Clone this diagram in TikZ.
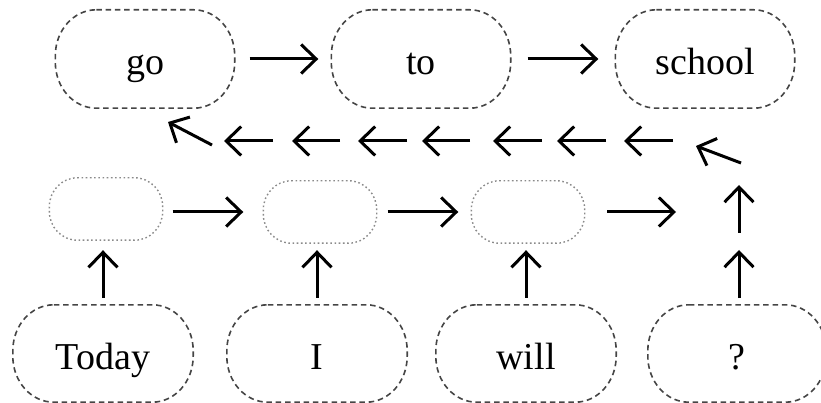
\documentclass[tikz,border=0pt]{standalone}
\usepackage{fontspec}
\setmainfont{Liberation Serif}
\usetikzlibrary{arrows.meta}
\definecolor{boxgray}{HTML}{454545}
\definecolor{dotgray}{HTML}{8A8A8A}
\newcommand\capsuleoutline[4]{% style, node, rx, ry
  \draw[#1] ([xshift=#3]#2.north west) -- ([xshift=-#3]#2.north east)
    arc[start angle=90,end angle=0,x radius=#3,y radius=#4]
    -- ([yshift=#4]#2.south east)
    arc[start angle=0,end angle=-90,x radius=#3,y radius=#4]
    -- ([xshift=#3]#2.south west)
    arc[start angle=270,end angle=180,x radius=#3,y radius=#4]
    -- ([yshift=-#4]#2.north west)
    arc[start angle=180,end angle=90,x radius=#3,y radius=#4] -- cycle;}
\begin{document}
\begin{tikzpicture}[x=1pt,y=-1pt,
  wordbox/.style={minimum width=179pt, minimum height=98pt, inner sep=0pt,
    text height=37pt, text depth=5pt, font=\fontsize{38}{40}\selectfont},
  hidbox/.style={minimum width=113pt, minimum height=62pt, inner sep=0pt},
  wordline/.style={draw=boxgray, line width=1.6pt, dash pattern=on 5.5pt off 3.8pt},
  hidline/.style={draw=dotgray, line width=1.4pt, dash pattern=on 1.6pt off 2.6pt},
  arr/.style={line width=3pt, -{Straight Barb[length=15pt,width=29pt,line width=3pt]}},
]
\useasboundingbox (0,0) rectangle (821,403);
% top row
\node[wordbox] (go) at (145,59) {go};
\node[wordbox] (to) at (421,59) {to};
\node[wordbox] (school) at (705,59) {school};
% hidden row
\node[hidbox] (h1) at (106,209) {};
\node[hidbox] (h2) at (320,212) {};
\node[hidbox] (h3) at (528,212) {};
% bottom row
\node[wordbox, minimum width=180pt, minimum height=97pt] (today) at (103,353.5) {Today};
\node[wordbox, minimum width=180pt, minimum height=97pt] (i) at (317,353.5) {I};
\node[wordbox, minimum width=180pt, minimum height=97pt] (will) at (526,353.5) {will};
\node[wordbox, minimum width=178pt, minimum height=97pt] (q) at (737,353.5) {?};
% outlines
\foreach \n in {go,to,school,today,i,will,q}{\capsuleoutline{wordline}{\n}{41pt}{46pt}}
\foreach \n in {h1,h2,h3}{\capsuleoutline{hidline}{\n}{28pt}{29pt}}
% top arrows
\draw[arr, shorten <=15pt, shorten >=13pt] (go) -- (to);
\draw[arr, shorten <=17pt, shorten >=17pt] (to) -- (school);
% hidden row arrows
\draw[arr, shorten <=10pt, shorten >=20pt] (h1.east |- h2.west) -- (h2.west);
\draw[arr, shorten <=11pt, shorten >=13pt] (h2) -- (h3);
\coordinate (h4a) at (607,212);
\coordinate (h4b) at (676,212);
\draw[arr] (h4a) -- (h4b);
% vertical arrows
\draw[arr, shorten <=7pt, shorten >=10pt] (today.north) -- (today.north |- h1.south);
\draw[arr, shorten <=7pt, shorten >=7pt] (i.north) -- (i.north |- h2.south);
\draw[arr, shorten <=7pt, shorten >=7pt] (will.north) -- (will.north |- h3.south);
\coordinate (qa) at (739,298);
\coordinate (qb) at (739,250);
\coordinate (qc) at (739,233);
\coordinate (qd) at (739,185);
\draw[arr] (qa) -- (qb);
\draw[arr] (qc) -- (qd);
% backward row
\coordinate (d2a) at (741,163);
\coordinate (d2b) at (696,146);
\draw[arr] (d2a) -- (d2b);
\foreach \t/\h [count=\k] in {673/624,606/557,542/493,470/422,407/358,340/292,273/224}{
  \coordinate (ba\k) at (\t,141);
  \coordinate (bb\k) at (\h,141);
  \draw[arr] (ba\k) -- (bb\k);
}
\coordinate (d1a) at (212,145);
\coordinate (d1b) at (168,122);
\draw[arr] (d1a) -- (d1b);
\end{tikzpicture}
\end{document}
